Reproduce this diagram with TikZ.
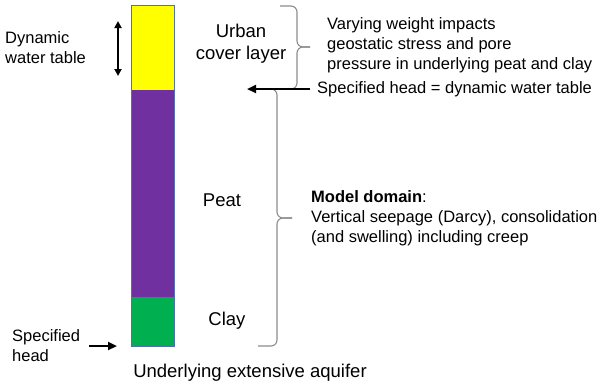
\documentclass[tikz,border=0pt]{standalone}
\usepackage{fontspec}
\setmainfont{Liberation Sans}
\usetikzlibrary{arrows.meta, positioning}
\definecolor{coverfill}{RGB}{255, 255, 0}
\definecolor{peatfill}{RGB}{112, 48, 160}
\definecolor{clayfill}{RGB}{0, 176, 80}
\definecolor{layeredge}{RGB}{84, 112, 176}
\definecolor{bracegray}{RGB}{140, 140, 140}
\tikzset{
    layer/.style={rectangle, minimum width=43pt, inner sep=0pt, outer sep=0pt},
    layertext/.style={font=\fontsize{18.5}{22}\selectfont, align=center, inner sep=0pt},
    note/.style={font=\fontsize{16.5}{20}\selectfont, align=left, inner sep=0pt, anchor=west},
    headarrow/.style={-{Triangle[length=9pt, width=8pt]}, line width=2.2pt},
    tablearrow/.style={{Triangle[length=7pt, width=7pt]}-{Triangle[length=7pt, width=7pt]}, line width=1.8pt},
    bracket/.style={draw=bracegray, line width=1.1pt, rounded corners=6pt}
}
\begin{document}
\begin{tikzpicture}[x=1pt, y=-1pt]

    \useasboundingbox (0,0) rectangle (600,389);

    % Soil column
    \node (cover) [layer, fill=coverfill, minimum height=85pt] at (152.5,47.5) {};
    \node (peat)  [layer, fill=peatfill, minimum height=207pt, below=0pt of cover] {};
    \node (clay)  [layer, fill=clayfill, minimum height=49pt, below=0pt of peat] {};
    \draw [layeredge, line width=0.9pt] (cover.north west) rectangle (clay.south east);

    % Layer names
    \node (covername) [layertext] at (241,44) {Urban\\cover layer};
    \node (peatname)  [layertext] at (222,200) {Peat};
    \node (clayname)  [layertext] at (227,321) {Clay};
    \node (aquifer)   [layertext] at (250,373) {Underlying extensive aquifer};

    % Notes
    \node (tablenote) [note] at (5,48) {Dynamic\\water table};
    \node (basehead)  [note] at (12,346) {Specified\\head};
    \node (weight)    [note] at (327,45) {Varying weight impacts\\geostatic stress and pore\\pressure in underlying peat and clay};
    \node (headnote)  [note] at (317,89) {Specified head = dynamic water table};
    \node (domain)    [note] at (311,218) {\textbf{Model domain}:\\Vertical seepage (Darcy), consolidation\\(and swelling) including creep};

    % Braces
    \draw [bracket] (280,6) -| (297,47) -- (310,47);
    \draw [bracket] (310,47) -- (297,47) |- (288,89);
    \draw [bracket] (258,89) -| (277,218) -- (292,218);
    \draw [bracket] (292,218) -- (277,218) |- (258,346);

    % Arrows
    \coordinate (tabletop) at (118,21);
    \coordinate (tablebot) at (118,76);
    \coordinate (headtip) at (247,89);
    \draw [tablearrow] (tabletop) -- (tablebot);
    \draw [headarrow] ([xshift=-7pt]headnote.west) -- (headtip);
    \draw [headarrow] ([xshift=9pt]basehead.east) -- ([xshift=-14pt]clay.south west);

\end{tikzpicture}
\end{document}
